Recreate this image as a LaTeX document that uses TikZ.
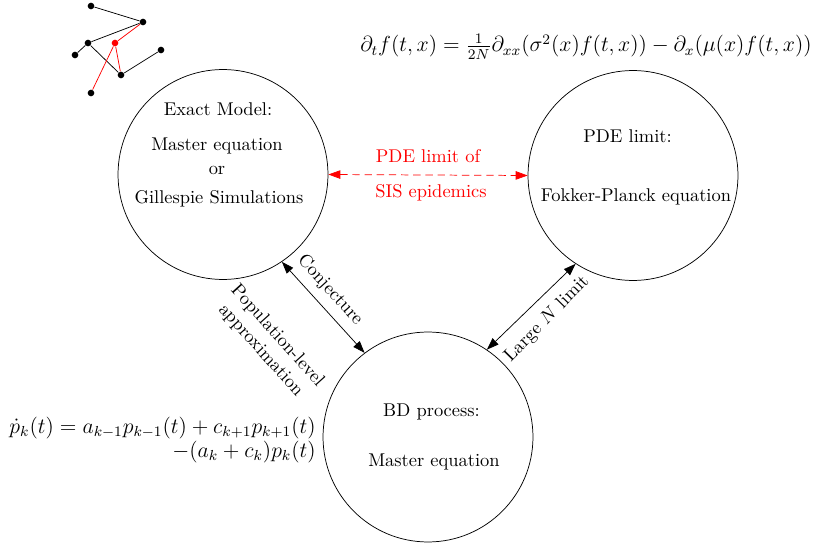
\documentclass[tikz,border=0pt]{standalone}
\usepackage{amsmath}
\usetikzlibrary{arrows.meta}
\newcommand{\eqsc}[1]{\scalebox{0.985}{\large #1}}
\begin{document}
\begin{tikzpicture}[x=0.542pt,y=-0.542pt,
  bigcirc/.style={circle,draw,line width=0.4pt,minimum size=113.8pt,inner sep=0pt},
  lbl/.style={inner sep=0pt,anchor=base},
  redlbl/.style={lbl,text=red},
  gdot/.style={circle,fill=black,inner sep=0pt,minimum size=3.6pt},
  rdot/.style={circle,fill=red,inner sep=0pt,minimum size=3.6pt},
  tip/.tip={Triangle[length=6.5pt,width=4.6pt]},
  link/.style={tip-tip,line width=0.4pt},
  redlink/.style={tip-tip,red,dash pattern=on 4pt off 2.6pt,line width=0.4pt},
  rot/.style={inner sep=0pt,align=center}
]
\useasboundingbox (0,0) rectangle (814,543);

% circles
\node[bigcirc] (exact) at (223,174.5) {};
\node[bigcirc] (pde) at (633,175.5) {};
\node[bigcirc] (bd) at (428,437) {};

% texts in circles
\node[lbl] (e1) at (218,116) {Exact Model:};
\node[lbl] (e2) at (217,150.7) {Master equation};
\node[lbl] (e3) at (217,174.3) {or};
\node[lbl] (e4) at (219,203.3) {Gillespie Simulations};

\node[lbl] (p1) at (627.5,142.7) {PDE limit:};
\node[lbl] (p2) at (636,201.7) {Fokker-Planck equation};

\node[lbl] (b1) at (431.5,416.7) {BD process:};
\node[lbl] (b2) at (434,466.7) {Master equation};

% red link
\draw[redlink] (exact.east) -- (pde.west);
\node[redlbl] (r1) at (428,162.7) {PDE limit of};
\node[redlbl] (r2) at (431,197.7) {SIS epidemics};

% black links
\draw[link] (exact.-56.3) -- (bd.127.3);
\draw[link] (pde.-123.4) -- (bd.56.2);

\node[rot,rotate=-47.7] (conj) at (330,290) {Conjecture};
\node[rot,rotate=-48] (popl) at (269,343) {Population-level\\approximation};
\node[rot,rotate=45.5] (largeN) at (547,319) {Large $N$ limit};

% equations
\node[lbl,anchor=base east] (eqtop) at (812,52)
  {\eqsc{$\partial_t f(t,x) = \frac{1}{2N}\partial_{xx}(\sigma^2(x)f(t,x)) - \partial_x(\mu(x)f(t,x))$}};
\node[lbl,anchor=base east] (eql1) at (316,433.5)
  {\eqsc{$\dot p_k(t) = a_{k-1}p_{k-1}(t) + c_{k+1}p_{k+1}(t)$}};
\node[lbl,anchor=base east] (eql2) at (316,457.5)
  {\eqsc{$-(a_k+c_k)p_k(t)$}};

% small graph
\node[gdot] (gA) at (91,6) {};
\node[gdot] (gB) at (143,22) {};
\node[gdot] (gC) at (88,43) {};
\node[rdot] (gD) at (115,43) {};
\node[gdot] (gE) at (75,55) {};
\node[gdot] (gF) at (161,50) {};
\node[gdot] (gG) at (121,75) {};
\node[gdot] (gH) at (91,93) {};
\draw (gA) -- (gB);
\draw (gB) -- (gC);
\draw (gC) -- (gE);
\draw (gC) -- (gG);
\draw (gG) -- (gF);
\draw[red] (gB) -- (gD);
\draw[red] (gD) -- (gG);
\draw[red] (gD) -- (gH);
\end{tikzpicture}
\end{document}
